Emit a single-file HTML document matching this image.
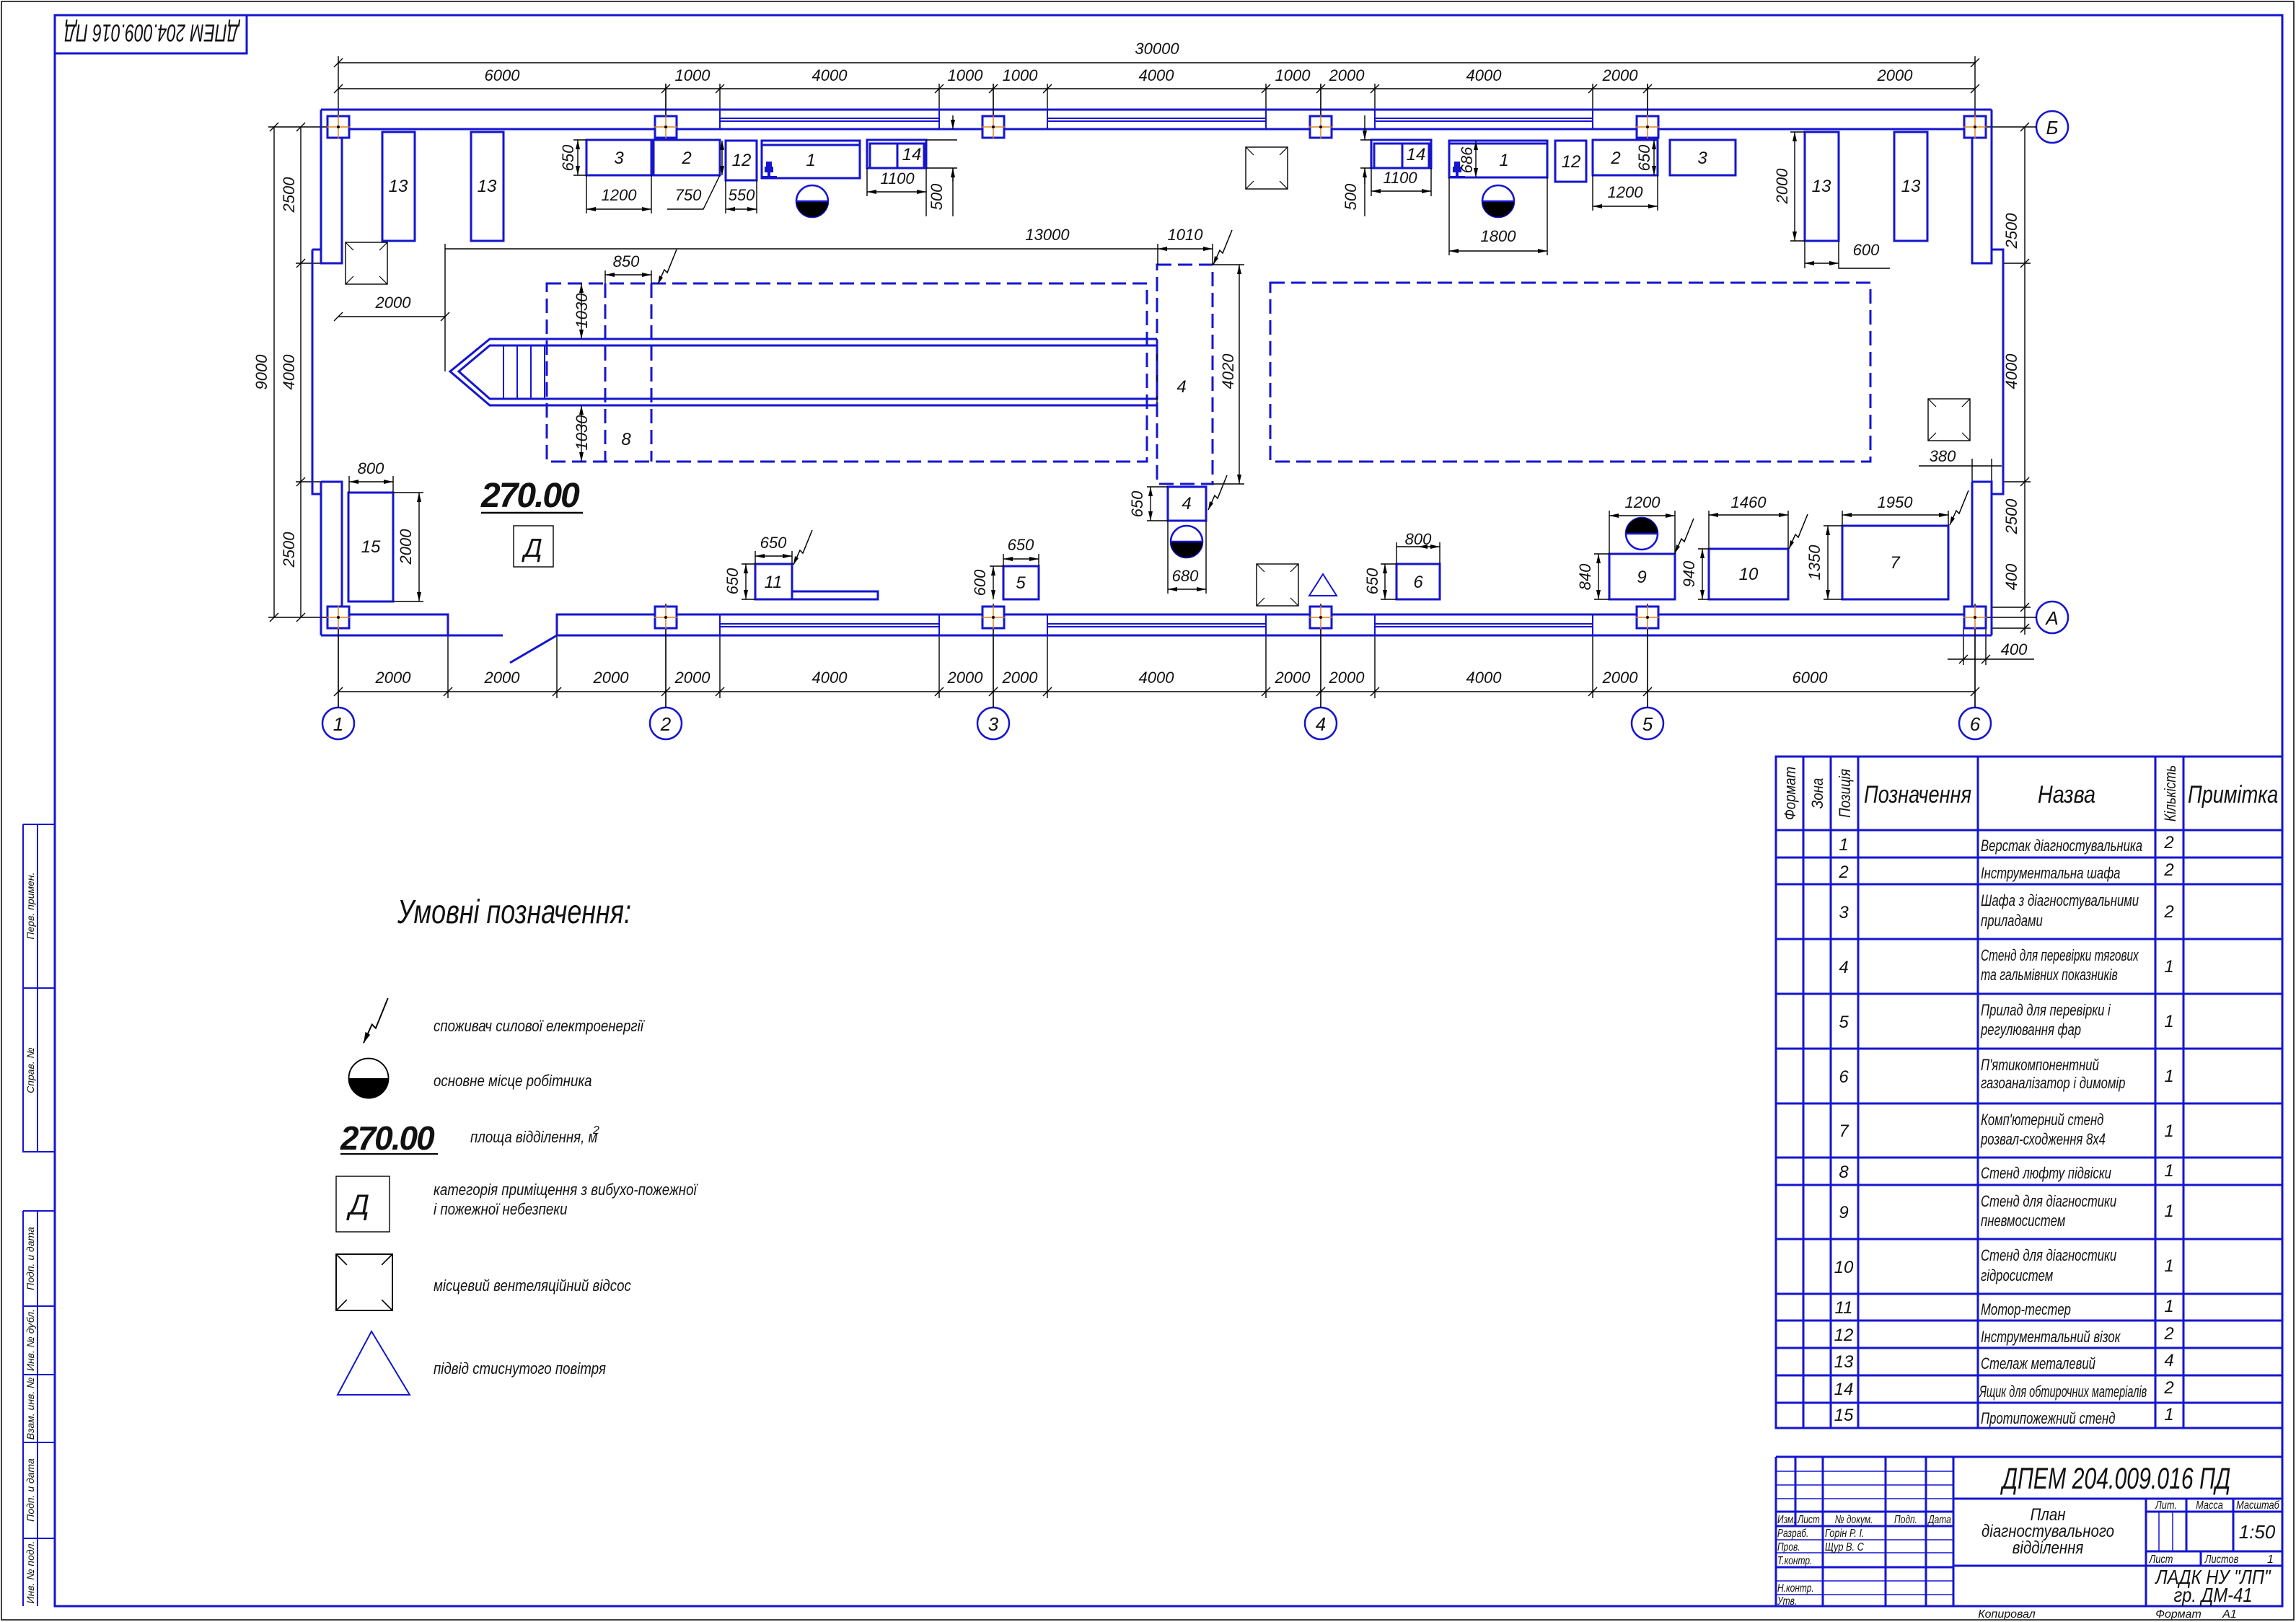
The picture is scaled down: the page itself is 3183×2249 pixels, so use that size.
<!DOCTYPE html>
<html><head><meta charset="utf-8"><style>
html,body{margin:0;padding:0;background:#fff}
svg{display:block}
text{font-family:"Liberation Sans","DejaVu Sans",sans-serif;font-style:italic;fill:#111}
.d{font-size:22px}
.b{stroke:#1515d0;fill:none;stroke-width:3}
.bt{stroke:#1515d0;fill:none;stroke-width:2}
.k{stroke:#000;fill:none;stroke-width:1.4}
.ds{stroke:#1515d0;fill:none;stroke-width:3;stroke-dasharray:20 9}
.or{stroke:#e08020;stroke-width:1.5}
.t{font-size:22px}
</style></head><body>
<svg width="3183" height="2249" viewBox="0 0 3183 2249" xmlns="http://www.w3.org/2000/svg">
<defs>
<marker id="ar" markerWidth="14" markerHeight="8" refX="13" refY="4" orient="auto-start-reverse" markerUnits="userSpaceOnUse"><path d="M0,1 L13,4 L0,7z" fill="#000"/></marker>
<g id="z"><path d="M0,48 L9,28 L13,32 L26,0" stroke="#000" stroke-width="1.5" fill="none"/><path d="M0,48 L2,36 L7,39z" fill="#000"/></g>
<g id="v"><rect x="0" y="0" width="58" height="58" fill="none" stroke="#000" stroke-width="1.4"/><path d="M0,0 L11,11 M58,0 L47,11 M0,58 L11,47 M58,58 L47,47" stroke="#000" stroke-width="1.2"/></g>
<g id="wb"><circle r="22" fill="#fff" stroke="#1515d0" stroke-width="2.5"/><path d="M-22,0 A22,22 0 0 0 22,0 Z" fill="#000"/><line x1="-22" y1="0" x2="22" y2="0" stroke="#1515d0" stroke-width="2.5"/></g>
<g id="wt"><circle r="22" fill="#fff" stroke="#1515d0" stroke-width="2.5"/><path d="M-22,0 A22,22 0 0 1 22,0 Z" fill="#000"/><line x1="-22" y1="0" x2="22" y2="0" stroke="#1515d0" stroke-width="2.5"/></g>
<g id="col"><rect x="-15" y="-15" width="30" height="30" fill="#fff" stroke="#1515d0" stroke-width="3"/><path d="M-16,0 H16 M0,-16 V16" class="or"/><circle r="2" fill="#000"/></g>
<g id="lamp" fill="#1515d0"><rect x="-4" y="-16" width="8" height="7"/><rect x="-6" y="-9" width="12" height="8"/><rect x="-2" y="-1" width="4" height="5"/><rect x="-11" y="4" width="22" height="3"/></g>
</defs>
<rect x="2" y="2" width="3178" height="2244" fill="none" stroke="#000" stroke-width="1.5"/>
<rect x="76" y="21" width="3088" height="2206" fill="none" stroke="#1515d0" stroke-width="3"/>
<rect x="76" y="21" width="266" height="53" fill="none" stroke="#1515d0" stroke-width="3"/>
<g transform="translate(210 47) rotate(180)"><text x="0" y="13" font-size="34" text-anchor="middle" transform="scale(0.68 1)">ДПЕМ 204.009.016 ПД</text></g>
<g stroke="#1515d0" stroke-width="2" fill="none">
<path d="M32,1143 H76 M32,1143 V1597 H76 M52,1143 V1597 M32,1370 H76"/>
<path d="M32,1679 H76 M32,1679 V2227 M52,1679 V2227 M32,1811 H76 M32,1906 H76 M32,2000 H76 M32,2133 H76"/>
</g>
<g font-size="14">
<text transform="translate(47 1256) rotate(-90)" text-anchor="middle">Перв. примен.</text>
<text transform="translate(47 1484) rotate(-90)" text-anchor="middle">Справ. №</text>
<text transform="translate(47 1745) rotate(-90)" text-anchor="middle">Подп. и дата</text>
<text transform="translate(47 1858) rotate(-90)" text-anchor="middle">Инв. № дубл.</text>
<text transform="translate(47 1953) rotate(-90)" text-anchor="middle">Взам. инв. №</text>
<text transform="translate(47 2066) rotate(-90)" text-anchor="middle">Подп. и дата</text>
<text transform="translate(47 2180) rotate(-90)" text-anchor="middle">Инв. № подл.</text>
</g>

<g class="k">
<path d="M469,87 H2738 M469,123 H2738"/>
<path d="M469,78 V170 M2738,78 V170 M923,116 V170 M998,116 V152 M1302,116 V152 M1377,116 V170 M1452,116 V152 M1755,116 V152 M1831,116 V170 M1906,116 V152 M2208,116 V152 M2284,116 V170"/>
<path d="M463,93 L475,81 M2732,93 L2744,81"/>
<path d="M463,129 L475,117 M917,129 L929,117 M992,129 L1004,117 M1296,129 L1308,117 M1371,129 L1383,117 M1446,129 L1458,117 M1749,129 L1761,117 M1825,129 L1837,117 M1900,129 L1912,117 M2202,129 L2214,117 M2278,129 L2290,117 M2732,129 L2744,117"/>
</g>
<g class="d" text-anchor="middle">
<text x="1604" y="75">30000</text>
<text x="696" y="112">6000</text><text x="960" y="112">1000</text><text x="1150" y="112">4000</text>
<text x="1338" y="112">1000</text><text x="1414" y="112">1000</text><text x="1603" y="112">4000</text>
<text x="1792" y="112">1000</text><text x="1867" y="112">2000</text><text x="2057" y="112">4000</text>
<text x="2246" y="112">2000</text><text x="2627" y="112">2000</text>
</g>
<g class="k">
<path d="M469,959 H2738"/>
<path d="M469,872 V980 M621,881 V968 M772,881 V968 M923,872 V980 M998,881 V968 M1302,881 V968 M1377,872 V980 M1452,881 V968 M1755,881 V968 M1831,872 V980 M1906,881 V968 M2208,881 V968 M2284,872 V980 M2738,872 V980"/>
<path d="M463,965 L475,953 M615,965 L627,953 M766,965 L778,953 M917,965 L929,953 M992,965 L1004,953 M1296,965 L1308,953 M1371,965 L1383,953 M1446,965 L1458,953 M1749,965 L1761,953 M1825,965 L1837,953 M1900,965 L1912,953 M2202,965 L2214,953 M2278,965 L2290,953 M2732,965 L2744,953"/>
</g>
<g class="d" text-anchor="middle">
<text x="545" y="947">2000</text><text x="696" y="947">2000</text><text x="847" y="947">2000</text>
<text x="960" y="947">2000</text><text x="1150" y="947">4000</text><text x="1338" y="947">2000</text>
<text x="1414" y="947">2000</text><text x="1603" y="947">4000</text><text x="1792" y="947">2000</text>
<text x="1867" y="947">2000</text><text x="2057" y="947">4000</text><text x="2246" y="947">2000</text>
<text x="2509" y="947">6000</text>
</g>
<g stroke="#1515d0" stroke-width="2.5" fill="#fff">
<circle cx="469" cy="1003" r="22"/><circle cx="923" cy="1003" r="22"/><circle cx="1377" cy="1003" r="22"/>
<circle cx="1831" cy="1003" r="22"/><circle cx="2284" cy="1003" r="22"/><circle cx="2738" cy="1003" r="22"/>
<circle cx="2845" cy="176" r="22"/><circle cx="2845" cy="856" r="22"/>
</g>
<g font-size="26" text-anchor="middle">
<text x="469" y="1013">1</text><text x="923" y="1013">2</text><text x="1377" y="1013">3</text>
<text x="1831" y="1013">4</text><text x="2284" y="1013">5</text><text x="2738" y="1013">6</text>
<text x="2845" y="186">Б</text><text x="2845" y="866">А</text>
</g>
<g class="k">
<path d="M380,176 V856 M417,176 V856"/>
<path d="M372,176 H460 M372,856 H460 M410,365 H445 M410,668 H445"/>
<path d="M374,182 L386,170 M374,862 L386,850 M411,182 L423,170 M411,371 L423,359 M411,674 L423,662 M411,862 L423,850"/>
</g>
<g class="d" text-anchor="middle">
<text transform="translate(408 270) rotate(-90)">2500</text>
<text transform="translate(408 516) rotate(-90)">4000</text>
<text transform="translate(408 762) rotate(-90)">2500</text>
<text transform="translate(370 516) rotate(-90)">9000</text>
</g>
<g class="k">
<path d="M2807,176 V880 M2738,176 H2823 M2738,856 H2823 M2777,365 H2815 M2777,668 H2815 M2761,842 H2815 M2761,871 H2815"/>
<path d="M2801,182 L2813,170 M2801,371 L2813,359 M2801,674 L2813,662 M2801,848 L2813,836 M2801,877 L2813,865"/>
<path d="M2722,870 V922 M2753,870 V922 M2700,914 H2820 M2716,920 L2728,908 M2747,920 L2759,908"/>
<path d="M2660,646 H2775 M2734,636 V668 M2761,636 V668"/>
</g>
<g class="d" text-anchor="middle">
<text transform="translate(2796 320) rotate(-90)">2500</text>
<text transform="translate(2796 515) rotate(-90)">4000</text>
<text transform="translate(2796 716) rotate(-90)">2500</text>
<text transform="translate(2796 800) rotate(-90)">400</text>
<text x="2792" y="908">400</text>
<text x="2693" y="640">380</text>
</g>
<g class="b">
<path d="M445,152 H2761 M474,179 H2734"/>
<path d="M445,152 V365 H474 V179"/>
<path d="M433,346 H445 M433,346 V685 H445"/>
<path d="M445,668 H474 V852 M445,668 V881"/>
<path d="M474,852 H621 V881 M445,881 H697"/>
<path d="M707,919 L772,881 M772,881 V852 H2734 M772,881 H2761"/>
<path d="M2761,152 V365 H2734 V179"/>
<path d="M2761,346 H2777 V685 H2761"/>
<path d="M2734,668 H2761 V881 M2734,668 V852"/>
</g>
<g class="bt">
<path d="M998,152 V179 M1302,152 V179 M998,164 H1302 M998,168 H1302"/>
<path d="M1452,152 V179 M1755,152 V179 M1452,164 H1755 M1452,168 H1755"/>
<path d="M1906,152 V179 M2208,152 V179 M1906,164 H2208 M1906,168 H2208"/>
<path d="M998,852 V881 M1302,852 V881 M998,865 H1302 M998,869 H1302"/>
<path d="M1452,852 V881 M1755,852 V881 M1452,865 H1755 M1452,869 H1755"/>
<path d="M1906,852 V881 M2208,852 V881 M1906,865 H2208 M1906,869 H2208"/>
</g>
<g class="k"><path d="M923,837 V981 M1377,837 V981 M1831,837 V981 M2284,837 V981 M2738,837 V981 M469,872 V981 M923,116 V176 M1377,116 V176 M1831,116 V176 M2284,116 V176"/></g>
<use href="#col" x="469" y="176"/><use href="#col" x="923" y="176"/><use href="#col" x="1377" y="176"/>
<use href="#col" x="1831" y="176"/><use href="#col" x="2284" y="176"/><use href="#col" x="2738" y="176"/>
<use href="#col" x="469" y="856"/><use href="#col" x="923" y="856"/><use href="#col" x="1377" y="856"/>
<use href="#col" x="1831" y="856"/><use href="#col" x="2284" y="856"/><use href="#col" x="2738" y="856"/>

<g class="b">
<rect x="530" y="183" width="45" height="151"/><rect x="653" y="183" width="45" height="151"/>
<rect x="813" y="194" width="90" height="49"/><rect x="906" y="194" width="92" height="49"/>
<rect x="1006" y="195" width="43" height="55"/>
<rect x="1056" y="195" width="136" height="52"/><path d="M1056,201 H1192"/>
<rect x="1202" y="194" width="82" height="39"/><rect x="1206" y="199" width="75" height="34"/><path d="M1244,199 V233"/>
<rect x="1901" y="194" width="83" height="39"/><rect x="1905" y="199" width="76" height="34"/><path d="M1944,199 V233"/>
<rect x="2009" y="195" width="136" height="51"/><path d="M2009,199 H2145"/>
<rect x="2156" y="195" width="43" height="57"/>
<rect x="2208" y="194" width="90" height="49"/><rect x="2315" y="194" width="91" height="49"/>
<rect x="2502" y="183" width="47" height="151"/><rect x="2626" y="183" width="46" height="151"/>
<rect x="483" y="683" width="62" height="151"/>
<rect x="1047" y="782" width="51" height="49"/><rect x="1098" y="820" width="119" height="11"/>
<rect x="1391" y="785" width="49" height="46"/>
<rect x="1936" y="782" width="60" height="49"/>
<rect x="2231" y="768" width="91" height="63"/>
<rect x="2369" y="761" width="110" height="70"/>
<rect x="2554" y="729" width="147" height="102"/>
<rect x="1619" y="675" width="53" height="47"/>
<path d="M1604,470 H679 L624,515 L679,562 H1604"/>
<path d="M1604,479 H679 L636,515 L679,553 H1604 Z"/>
<path d="M698,479 V553 M717,479 V553 M736,479 V553 M755,479 V553" stroke-width="2"/>
</g>
<path d="M1604,470 V562" class="k" stroke-width="2"/>
<rect x="758" y="393" width="832" height="247" class="ds"/>
<path d="M839,393 V640 M903,393 V640" class="ds"/>
<rect x="1604" y="367" width="77" height="304" class="ds"/>
<rect x="1761" y="392" width="832" height="248" class="ds"/>
<use href="#v" x="479" y="336"/><use href="#v" x="1727" y="204"/><use href="#v" x="1742" y="782"/><use href="#v" x="2673" y="553"/>
<path d="M1834,796 L1815,826 H1853 Z" class="bt"/>
<use href="#wb" x="1126" y="279"/><use href="#wb" x="2077" y="279"/><use href="#wb" x="1645" y="751"/><use href="#wt" x="2276" y="740"/>
<use href="#lamp" x="1066" y="240"/><use href="#lamp" x="2020" y="240"/>
<use href="#z" x="912" y="346"/><use href="#z" x="1682" y="319"/><use href="#z" x="1675" y="659"/><use href="#z" x="1100" y="735"/>
<use href="#z" x="2322" y="719"/><use href="#z" x="2480" y="713"/><use href="#z" x="2703" y="680"/>
<g font-size="24" text-anchor="middle">
<text x="552" y="266">13</text><text x="675" y="266">13</text><text x="858" y="227">3</text><text x="952" y="227">2</text>
<text x="1028" y="230">12</text><text x="1124" y="230">1</text><text x="1264" y="222">14</text>
<text x="1963" y="222">14</text><text x="2085" y="230">1</text><text x="2178" y="232">12</text><text x="2240" y="227">2</text><text x="2360" y="227">3</text>
<text x="2525" y="266">13</text><text x="2649" y="266">13</text>
<text x="514" y="766">15</text><text x="1072" y="815">11</text><text x="1415" y="816">5</text><text x="1966" y="815">6</text>
<text x="2276" y="808">9</text><text x="2424" y="804">10</text><text x="2627" y="788">7</text>
<text x="1645" y="706">4</text><text x="1638" y="544">4</text><text x="868" y="617">8</text>
</g>
<g class="k">
<path d="M813,290 H903" marker-start="url(#ar)" marker-end="url(#ar)"/><path d="M813,243 V296 M903,243 V296"/>
<path d="M925,290 H975 L998,243"/>
<path d="M1006,290 H1049" marker-start="url(#ar)" marker-end="url(#ar)"/><path d="M1006,250 V296 M1049,250 V296"/>
<path d="M1202,266 H1284" marker-start="url(#ar)" marker-end="url(#ar)"/><path d="M1202,233 V272 M1284,233 V300"/>
<path d="M801,194 V243" marker-start="url(#ar)" marker-end="url(#ar)"/><path d="M795,194 H813 M795,243 H813"/>
<path d="M1001,195 V243" marker-start="url(#ar)" marker-end="url(#ar)"/>
<path d="M1321,160 V179" marker-end="url(#ar)"/><path d="M1321,233 V300"/><path d="M1321,252 V233" marker-end="url(#ar)"/><path d="M1284,194 H1327 M1284,233 H1327"/>
<path d="M617,345 H1605 M617,338 V515"/><path d="M1605,345 H1681" marker-start="url(#ar)" marker-end="url(#ar)"/><path d="M1605,338 V367 M1681,338 V367"/>
<path d="M469,439 H617" /><path d="M463,445 L475,433 M611,445 L623,433"/>
<path d="M839,381 H903" marker-start="url(#ar)" marker-end="url(#ar)"/><path d="M839,375 V393 M903,375 V393"/>
<path d="M806,393 V470" marker-start="url(#ar)" marker-end="url(#ar)"/>
<path d="M806,562 V640" marker-start="url(#ar)" marker-end="url(#ar)"/>
<path d="M1718,367 V671" marker-start="url(#ar)" marker-end="url(#ar)"/><path d="M1681,367 H1725 M1681,671 H1725"/>
<path d="M1595,675 V722" marker-start="url(#ar)" marker-end="url(#ar)"/><path d="M1590,675 H1619 M1590,722 H1619"/>
<path d="M1619,817 H1672" marker-start="url(#ar)" marker-end="url(#ar)"/><path d="M1619,722 V823 M1672,722 V823"/>
<path d="M484,668 H545" marker-start="url(#ar)" marker-end="url(#ar)"/><path d="M484,660 V683 M545,660 V683"/>
<path d="M581,683 V834" marker-start="url(#ar)" marker-end="url(#ar)"/><path d="M545,683 H587 M545,834 H587"/>
<path d="M1047,771 H1098" marker-start="url(#ar)" marker-end="url(#ar)"/><path d="M1047,764 V782 M1098,764 V782"/>
<path d="M1034,782 V831" marker-start="url(#ar)" marker-end="url(#ar)"/><path d="M1028,782 H1047 M1028,831 H1047"/>
<path d="M1391,775 H1440" marker-start="url(#ar)" marker-end="url(#ar)"/><path d="M1391,768 V785 M1440,768 V785"/>
<path d="M1377,785 V831" marker-start="url(#ar)" marker-end="url(#ar)"/><path d="M1372,785 H1391"/>
<path d="M1901,265 H1984" marker-start="url(#ar)" marker-end="url(#ar)"/><path d="M1901,233 V272 M1984,233 V272"/>
<path d="M1892,160 V194" marker-end="url(#ar)"/><path d="M1892,255 V233" marker-end="url(#ar)"/><path d="M1892,233 V300 M1886,194 H1901 M1886,233 H1901"/>
<path d="M2009,348 H2145" marker-start="url(#ar)" marker-end="url(#ar)"/><path d="M2009,246 V354 M2145,246 V354"/>
<path d="M2046,195 V246" marker-start="url(#ar)" marker-end="url(#ar)"/>
<path d="M2293,194 V243" marker-start="url(#ar)" marker-end="url(#ar)"/>
<path d="M2208,286 H2298" marker-start="url(#ar)" marker-end="url(#ar)"/><path d="M2208,243 V292 M2298,243 V292"/>
<path d="M2488,183 V334" marker-start="url(#ar)" marker-end="url(#ar)"/><path d="M2482,183 H2502 M2482,334 H2502"/>
<path d="M2502,365 H2549" marker-start="url(#ar)" marker-end="url(#ar)"/><path d="M2502,334 V372 M2549,334 V372 H2620"/>
<path d="M1966,758 H1996" marker-start="url(#ar)" marker-end="url(#ar)"/><path d="M1936,758 H1966 M1936,752 V782 M1996,752 V782"/>
<path d="M1920,782 V831" marker-start="url(#ar)" marker-end="url(#ar)"/><path d="M1914,782 H1936 M1914,831 H1936"/>
<path d="M2231,715 H2322" marker-start="url(#ar)" marker-end="url(#ar)"/><path d="M2231,708 V768 M2322,708 V768"/>
<path d="M2216,768 V831" marker-start="url(#ar)" marker-end="url(#ar)"/><path d="M2210,768 H2231 M2210,831 H2231"/>
<path d="M2369,714 H2479" marker-start="url(#ar)" marker-end="url(#ar)"/><path d="M2369,708 V761 M2479,708 V761"/>
<path d="M2360,761 V831" marker-start="url(#ar)" marker-end="url(#ar)"/><path d="M2354,761 H2369 M2354,831 H2369"/>
<path d="M2554,714 H2701" marker-start="url(#ar)" marker-end="url(#ar)"/><path d="M2554,708 V729 M2701,708 V729"/>
<path d="M2534,729 V831" marker-start="url(#ar)" marker-end="url(#ar)"/><path d="M2528,729 H2554 M2528,831 H2554"/>
</g>
<g class="d" text-anchor="middle">
<text x="858" y="278">1200</text><text x="954" y="278">750</text><text x="1028" y="278">550</text><text x="1244" y="255">1100</text>
<text transform="translate(795 219) rotate(-90)">650</text>
<text transform="translate(1306 273) rotate(-90)">500</text>
<text x="1452" y="333">13000</text><text x="1643" y="333">1010</text><text x="545" y="427">2000</text>
<text x="868" y="370">850</text>
<text transform="translate(814 431) rotate(-90)">1030</text><text transform="translate(814 600) rotate(-90)">1030</text>
<text transform="translate(1710 515) rotate(-90)">4020</text>
<text transform="translate(1584 699) rotate(-90)">650</text>
<text x="1643" y="806">680</text>
<text x="514" y="657">800</text><text transform="translate(570 758) rotate(-90)">2000</text>
<text x="1072" y="760">650</text><text transform="translate(1023 806) rotate(-90)">650</text>
<text x="1415" y="763">650</text><text transform="translate(1366 808) rotate(-90)">600</text>
<text x="1941" y="254">1100</text><text transform="translate(1880 273) rotate(-90)">500</text>
<text transform="translate(2041 222) rotate(-90)">686</text>
<text x="2077" y="335">1800</text>
<text transform="translate(2287 219) rotate(-90)">650</text>
<text x="2253" y="274">1200</text>
<text transform="translate(2478 258) rotate(-90)">2000</text>
<text x="2587" y="354">600</text>
<text x="1966" y="755">800</text><text transform="translate(1910 806) rotate(-90)">650</text>
<text x="2277" y="704">1200</text><text transform="translate(2205 800) rotate(-90)">840</text>
<text x="2424" y="704">1460</text><text transform="translate(2349 796) rotate(-90)">940</text>
<text x="2627" y="704">1950</text><text transform="translate(2523 780) rotate(-90)">1350</text>
</g>
<text x="667" y="703" font-size="48" font-weight="bold" style="letter-spacing:-2px">270.00</text>
<path d="M667,711 H808" stroke="#000" stroke-width="2.5"/>
<rect x="712" y="729" width="55" height="57" fill="none" stroke="#000" stroke-width="1.4"/>
<text x="739" y="772" font-size="36" text-anchor="middle">Д</text>

<text transform="translate(551 1280) scale(0.78 1)" font-size="46">Умовні позначення:</text>
<g transform="translate(504 1384) scale(1.3)"><use href="#z"/></g>
<text transform="translate(601 1430) scale(0.85 1)" class="t">споживач силової електроенергії</text>
<g transform="translate(511 1495) scale(1.25)"><circle r="22" fill="#fff" stroke="#000" stroke-width="1.5"/><path d="M-22,0 A22,22 0 0 0 22,0 Z" fill="#000"/></g>
<text transform="translate(601 1506) scale(0.85 1)" class="t">основне місце робітника</text>
<text x="472" y="1594" font-size="46" font-weight="bold" style="letter-spacing:-2px">270.00</text>
<path d="M472,1600 H607" stroke="#000" stroke-width="2"/>
<text transform="translate(652 1584) scale(0.85 1)" class="t">площа відділення, м</text><text x="822" y="1572" font-size="16">2</text>
<rect x="466" y="1631" width="74" height="77" fill="none" stroke="#000" stroke-width="1.4"/>
<text x="498" y="1684" font-size="40" text-anchor="middle">Д</text>
<text transform="translate(601 1657) scale(0.85 1)" class="t">категорія приміщення з вибухо-пожежної</text>
<text transform="translate(601 1684) scale(0.85 1)" class="t">і пожежної небезпеки</text>
<g transform="translate(466 1739) scale(1.345)"><use href="#v"/></g>
<text transform="translate(601 1790) scale(0.85 1)" class="t">місцевий вентеляційний відсос</text>
<path d="M515,1846 L468,1934 H568 Z" fill="none" stroke="#1515d0" stroke-width="2"/>
<text transform="translate(601 1905) scale(0.85 1)" class="t">підвід стиснутого повітря</text>

<g stroke="#1515d0" stroke-width="3" fill="none">
<rect x="2462" y="1049" width="702" height="931"/>
<path d="M2500,1049 V1980 M2538,1049 V1980 M2576,1049 V1980 M2742,1049 V1980 M2988,1049 V1980 M3027,1049 V1980"/>
<path d="M2462,1151 H3164 M2462,1189 H3164 M2462,1226 H3164 M2462,1302 H3164 M2462,1378 H3164 M2462,1454 H3164 M2462,1530 H3164 M2462,1605 H3164 M2462,1643 H3164 M2462,1718 H3164 M2462,1794 H3164 M2462,1831 H3164 M2462,1869 H3164 M2462,1907 H3164 M2462,1945 H3164"/>
</g>
<g font-size="22">
<text transform="translate(2489 1100) rotate(-90) scale(0.85 1)" text-anchor="middle">Формат</text>
<text transform="translate(2527 1100) rotate(-90) scale(0.85 1)" text-anchor="middle">Зона</text>
<text transform="translate(2565 1100) rotate(-90) scale(0.85 1)" text-anchor="middle">Позиція</text>
<text transform="translate(3016 1100) rotate(-90) scale(0.8 1)" text-anchor="middle">Кількість</text>
</g>
<text transform="translate(2584 1113) scale(0.8 1)" font-size="34">Позначення</text>
<text transform="translate(2865 1113) scale(0.85 1)" font-size="34" text-anchor="middle">Назва</text>
<text transform="translate(3033 1113) scale(0.8 1)" font-size="34">Примітка</text>
<g font-size="24" text-anchor="middle">
<text x="2556" y="1179">1</text><text x="2556" y="1217">2</text><text x="2556" y="1273">3</text><text x="2556" y="1349">4</text>
<text x="2556" y="1425">5</text><text x="2556" y="1501">6</text><text x="2556" y="1576">7</text><text x="2556" y="1633">8</text>
<text x="2556" y="1689">9</text><text x="2556" y="1765">10</text><text x="2556" y="1821">11</text><text x="2556" y="1859">12</text>
<text x="2556" y="1896">13</text><text x="2556" y="1934">14</text><text x="2556" y="1970">15</text>
<text x="3007" y="1176">2</text><text x="3007" y="1214">2</text><text x="3007" y="1272">2</text><text x="3007" y="1348">1</text>
<text x="3007" y="1424">1</text><text x="3007" y="1500">1</text><text x="3007" y="1576">1</text><text x="3007" y="1631">1</text>
<text x="3007" y="1687">1</text><text x="3007" y="1763">1</text><text x="3007" y="1819">1</text><text x="3007" y="1857">2</text>
<text x="3007" y="1894">4</text><text x="3007" y="1932">2</text><text x="3007" y="1969">1</text>
</g>
<g font-size="22">
<text transform="translate(2746 1180) scale(0.76 1)">Верстак діагностувальника</text>
<text transform="translate(2746 1218) scale(0.76 1)">Інструментальна шафа</text>
<text transform="translate(2746 1256) scale(0.76 1)">Шафа з діагностувальними</text>
<text transform="translate(2746 1284) scale(0.76 1)">приладами</text>
<text transform="translate(2746 1332) scale(0.7 1)">Стенд для перевірки тягових</text>
<text transform="translate(2746 1359) scale(0.72 1)">та гальмівних показників</text>
<text transform="translate(2746 1408) scale(0.76 1)">Прилад для перевірки і</text>
<text transform="translate(2746 1435) scale(0.76 1)">регулювання фар</text>
<text transform="translate(2746 1484) scale(0.76 1)">П'ятикомпонентний</text>
<text transform="translate(2746 1509) scale(0.76 1)">газоаналізатор і димомір</text>
<text transform="translate(2746 1560) scale(0.76 1)">Комп'ютерний стенд</text>
<text transform="translate(2746 1587) scale(0.76 1)">розвал-сходження 8х4</text>
<text transform="translate(2746 1634) scale(0.76 1)">Стенд люфту підвіски</text>
<text transform="translate(2746 1673) scale(0.76 1)">Стенд для діагностики</text>
<text transform="translate(2746 1700) scale(0.76 1)">пневмосистем</text>
<text transform="translate(2746 1748) scale(0.76 1)">Стенд для діагностики</text>
<text transform="translate(2746 1776) scale(0.76 1)">гідросистем</text>
<text transform="translate(2746 1823) scale(0.76 1)">Мотор-тестер</text>
<text transform="translate(2746 1861) scale(0.76 1)">Інструментальний візок</text>
<text transform="translate(2746 1898) scale(0.76 1)">Стелаж металевий</text>
<text transform="translate(2744 1937) scale(0.66 1)">Ящик для обтирочних матеріалів</text>
<text transform="translate(2746 1974) scale(0.76 1)">Протипожежний стенд</text>
</g>

<g stroke="#1515d0" stroke-width="3" fill="none">
<path d="M2462,2020 H3164 M2462,2020 V2227 M2708,2020 V2227"/>
<path d="M2489,2020 V2116 M2527,2020 V2227 M2614,2020 V2227 M2670,2020 V2227"/>
<path d="M2462,2096 H2708 M2462,2116 H2708 M2462,2173 H2708"/>
<path d="M2708,2078 H3164 M2975,2078 V2227 M2975,2096 H3164 M2975,2151 H3164 M2708,2171 H3164"/>
<path d="M3031,2078 V2151 M3096,2078 V2151 M3051,2151 V2171"/>
</g>
<g stroke="#1515d0" stroke-width="1.5" fill="none">
<path d="M2462,2040 H2708 M2462,2059 H2708 M2462,2078 H2708 M2462,2135 H2708 M2462,2153 H2708 M2462,2192 H2708 M2462,2211 H2708"/>
<path d="M2993,2096 V2151 M3012,2096 V2151"/>
</g>
<text transform="translate(2934 2064) scale(0.72 1)" font-size="42" text-anchor="middle">ДПЕМ 204.009.016 ПД</text>
<g font-size="24" text-anchor="middle">
<text transform="translate(2839 2108) scale(0.85 1)">План</text><text transform="translate(2839 2131) scale(0.85 1)">діагностувального</text><text transform="translate(2839 2154) scale(0.85 1)">відділення</text>
</g>
<g font-size="16">
<text transform="translate(3003 2092) scale(0.8 1)" text-anchor="middle">Лит.</text><text transform="translate(3063 2092) scale(0.8 1)" text-anchor="middle">Масса</text><text transform="translate(3130 2092) scale(0.8 1)" text-anchor="middle">Масштаб</text>
<text transform="translate(2996 2167) scale(0.8 1)" text-anchor="middle">Лист</text><text transform="translate(3080 2167) scale(0.8 1)" text-anchor="middle">Листов</text><text x="3143" y="2167">1</text>
<text transform="translate(2464 2112) scale(0.75 1)">Изм.</text><text transform="translate(2492 2112) scale(0.75 1)">Лист</text><text transform="translate(2570 2112) scale(0.75 1)" text-anchor="middle">№ докум.</text><text transform="translate(2642 2112) scale(0.75 1)" text-anchor="middle">Подп.</text><text transform="translate(2689 2112) scale(0.75 1)" text-anchor="middle">Дата</text>
<text transform="translate(2464 2131) scale(0.75 1)">Разраб.</text><text transform="translate(2464 2150) scale(0.75 1)">Пров.</text><text transform="translate(2464 2169) scale(0.75 1)">Т.контр.</text>
<text transform="translate(2464 2207) scale(0.75 1)">Н.контр.</text><text transform="translate(2464 2225) scale(0.75 1)">Утв.</text>
<text transform="translate(2530 2131) scale(0.8 1)">Горін Р. І.</text><text transform="translate(2530 2150) scale(0.8 1)">Щур В. С</text>
<text x="2782" y="2243" text-anchor="middle">Копировал</text><text x="3020" y="2243" text-anchor="middle">Формат</text><text x="3091" y="2243" text-anchor="middle">А1</text>
</g>
<text x="3129" y="2133" font-size="26" text-anchor="middle">1:50</text>
<text transform="translate(3068 2196) scale(0.85 1)" font-size="28" text-anchor="middle">ЛАДК НУ "ЛП"</text>
<text transform="translate(3068 2221) scale(0.85 1)" font-size="28" text-anchor="middle">гр. ДМ-41</text>
</svg>
</body></html>
